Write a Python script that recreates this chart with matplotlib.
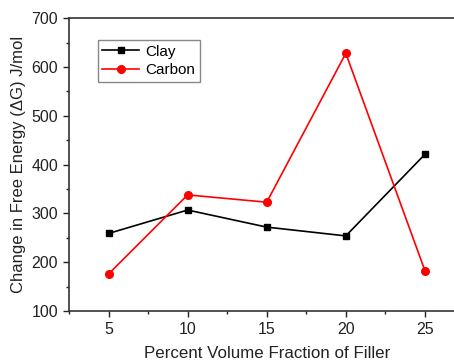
import matplotlib
matplotlib.use("Agg")
import matplotlib.pyplot as plt
from matplotlib.ticker import MultipleLocator

plt.rcParams['font.family'] = ['Liberation Sans', 'DejaVu Sans']

x = [5, 10, 15, 20, 25]
clay = [259, 307, 272, 254, 421]
carbon = [176, 338, 323, 628, 183]

fig = plt.figure(figsize=(4.54, 3.63), dpi=100)
ax = fig.add_axes([0.152, 0.143, 0.871, 0.807])
ax.plot(x, clay, color='black', marker='s', markersize=5, linewidth=1.2, label='Clay')
ax.plot(x, carbon, color='red', marker='o', markersize=5.5, linewidth=1.2, label='Carbon')
ax.set_xlim(2.5, 27.5)
ax.set_ylim(100, 700)
ax.xaxis.set_major_locator(MultipleLocator(5))
ax.xaxis.set_minor_locator(MultipleLocator(2.5))
ax.yaxis.set_major_locator(MultipleLocator(100))
ax.yaxis.set_minor_locator(MultipleLocator(50))
ax.tick_params(which='major', direction='out', length=4, width=1, labelsize=11.5, colors='#222222', pad=4)
ax.tick_params(which='minor', direction='out', length=2.5, width=1, colors='#222222')
for s in ax.spines.values():
    s.set_linewidth(1.2)
    s.set_color('#333333')
ax.set_xlabel('Percent Volume Fraction of Filler', fontsize=12.2, color='#222222', labelpad=6)
ax.set_ylabel('Change in Free Energy (\u0394G) J/mol', fontsize=12, color='#222222', labelpad=4)
leg = ax.legend(loc='upper left', bbox_to_anchor=(0.073, 0.925), borderaxespad=0, fontsize=11,
                fancybox=False, edgecolor='#888888', framealpha=1,
                handlelength=2.4, borderpad=0.3, labelspacing=0.3, handletextpad=0.4)
leg.get_frame().set_linewidth(1)
fig.savefig('out.png', dpi=100)
